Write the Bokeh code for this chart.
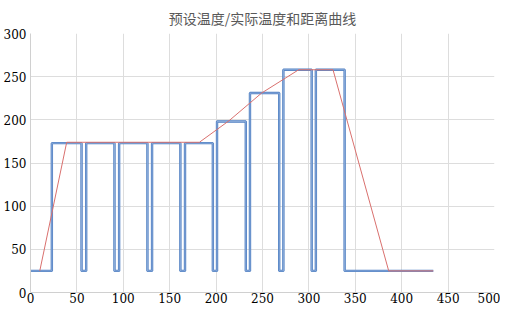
from bokeh.plotting import figure
from bokeh.models import Range1d, SingleIntervalTicker
from bokeh.embed import file_html
from bokeh.resources import INLINE

# Preset temperature (step curve) vs distance
preset_x = [0, 23, 23, 55, 55, 60, 60, 90.5, 90.5, 95.5, 95.5, 126, 126, 131, 131,
            161.5, 161.5, 166.5, 166.5, 196.5, 196.5, 201, 201, 232, 232, 236.5,
            236.5, 268, 268, 272.5, 272.5, 303, 303, 307.5, 307.5, 338.5, 338.5, 434]
preset_y = [25, 25, 173, 173, 25, 25, 173, 173, 25, 25, 173, 173, 25, 25, 173,
            173, 25, 25, 173, 173, 25, 25, 198, 198, 25, 25,
            231, 231, 25, 25, 258, 258, 25, 25, 258, 258, 25, 25]

# Actual temperature vs distance
actual_x = [10, 39, 182, 214, 249, 289, 326, 386, 434]
actual_y = [25, 174, 174, 199, 231, 258, 258, 25, 25]

title_text = "预设温度/实际温度和距离曲线"

p = figure(width=500, height=305, output_backend="svg", toolbar_location=None,
           x_range=Range1d(0, 500), y_range=Range1d(0, 300),
           min_border_left=0, min_border_right=6, min_border_top=0, min_border_bottom=0)

p.title.text = title_text
p.title.align = "center"
p.title.text_font = "Noto Sans CJK SC"
p.title.text_font_size = "14px"
p.title.text_font_style = "normal"
p.title.text_color = "#595959"
p.title.offset = 0
p.title.standoff = 11

for ax in (p.xaxis[0], p.yaxis[0]):
    ax.ticker = SingleIntervalTicker(interval=50)
    ax.major_tick_line_color = None
    ax.minor_tick_line_color = None
    ax.major_tick_out = 0
    ax.major_tick_in = 0
    ax.minor_tick_out = 0
    ax.minor_tick_in = 0
    ax.axis_line_color = "#D0D0D0"
    ax.major_label_text_font = "DejaVu Serif"
    ax.major_label_text_font_size = "12px"
    ax.major_label_text_color = "#000000"

p.xaxis.major_label_standoff = 0
p.yaxis.major_label_standoff = 4

p.xgrid.ticker = SingleIntervalTicker(interval=50)
p.ygrid.ticker = SingleIntervalTicker(interval=50)
p.xgrid.grid_line_color = "#DDDDDD"
p.ygrid.grid_line_color = "#DDDDDD"
p.outline_line_color = None

p.line(preset_x, preset_y, line_color="#4F7FC2", line_width=2.4)
p.line(preset_x, preset_y, line_color="#A4BDE4", line_width=0.7)
p.line(actual_x, actual_y, line_color="#D9706E", line_width=1)

open("out.html", "w").write(file_html(p, INLINE))
